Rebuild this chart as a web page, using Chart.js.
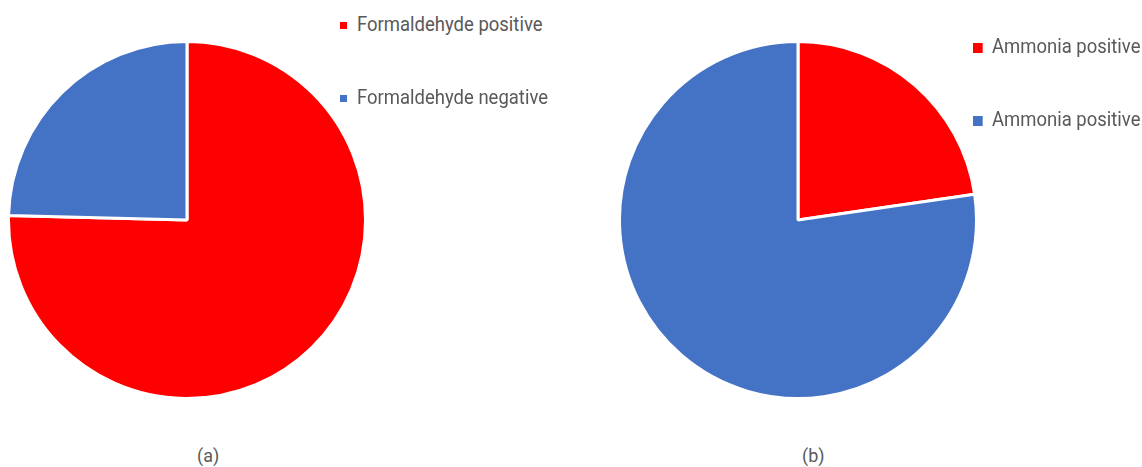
<!DOCTYPE html>
<html>
<head>
<meta charset="utf-8">
<script src="https://cdn.jsdelivr.net/npm/chart.js@4"></script>
<style>
    body { margin: 0; background: #fff; width: 1142px; height: 467px; position: relative; overflow: hidden; font-family: Roboto, sans-serif; color: #595959; }
    .pie { position: absolute; width: 360px; height: 360px; }
    .legend { position: absolute; white-space: nowrap; transform-origin: left center; }
    .legend .sw { display: inline-block; vertical-align: middle; }
    .caption { position: absolute; font-size: 18px; }
</style>
</head>
<body>
<div class="pie" style="left:7px; top:40px;"><canvas id="pieA" width="360" height="360"></canvas></div>
<div class="pie" style="left:618px; top:40px;"><canvas id="pieB" width="360" height="360"></canvas></div>
<div id="legA"></div>
<div id="legB"></div>
<div class="caption" style="left:197px; top:445px;">(a)</div>
<div class="caption" style="left:802px; top:445px;">(b)</div>
<script>
const labelsA = ["Formaldehyde positive", "Formaldehyde negative"];
const valuesA = [75.4, 24.6];
const labelsB = ["Ammonia positive", "Ammonia positive"];
const valuesB = [22.7, 77.3];
const colors = ["#FF0000", "#4472C4"];

function makePie(id, labels, values) {
    const ctx = document.getElementById(id).getContext('2d');
    return new Chart(ctx, {
        type: 'pie',
        data: {
            labels: labels,
            datasets: [{
                data: values,
                backgroundColor: colors,
                borderColor: '#ffffff',
                borderWidth: 3
            }]
        },
        options: {
            responsive: false,
            animation: false,
            events: [],
            layout: { padding: 0 },
            plugins: { legend: { display: false }, tooltip: { enabled: false } }
        }
    });
}

function makeLegend(id, labels, x, ys, size, box, gap, scale) {
    const el = document.getElementById(id);
    labels.forEach((t, i) => {
        const d = document.createElement('div');
        d.className = 'legend';
        d.style.left = x + 'px';
        d.style.top = (ys[i] - size * 0.6) + 'px';
        d.style.fontSize = size + 'px';
        d.style.lineHeight = (size * 1.2) + 'px';
        d.style.transform = 'scaleX(' + scale + ')';
        d.innerHTML = '<span class="sw" style="width:' + (box / scale) + 'px;height:' + box + 'px;margin-right:' + (gap / scale) + 'px;background:' + colors[i] + '"></span>' + t;
        el.appendChild(d);
    });
}

makePie('pieA', labelsA, valuesA);
makePie('pieB', labelsB, valuesB);
makeLegend('legA', labelsA, 340, [25, 98], 21, 7, 10, 0.88);
makeLegend('legB', labelsB, 973, [47, 120], 21, 10, 9, 0.88);
</script>
</body>
</html>
